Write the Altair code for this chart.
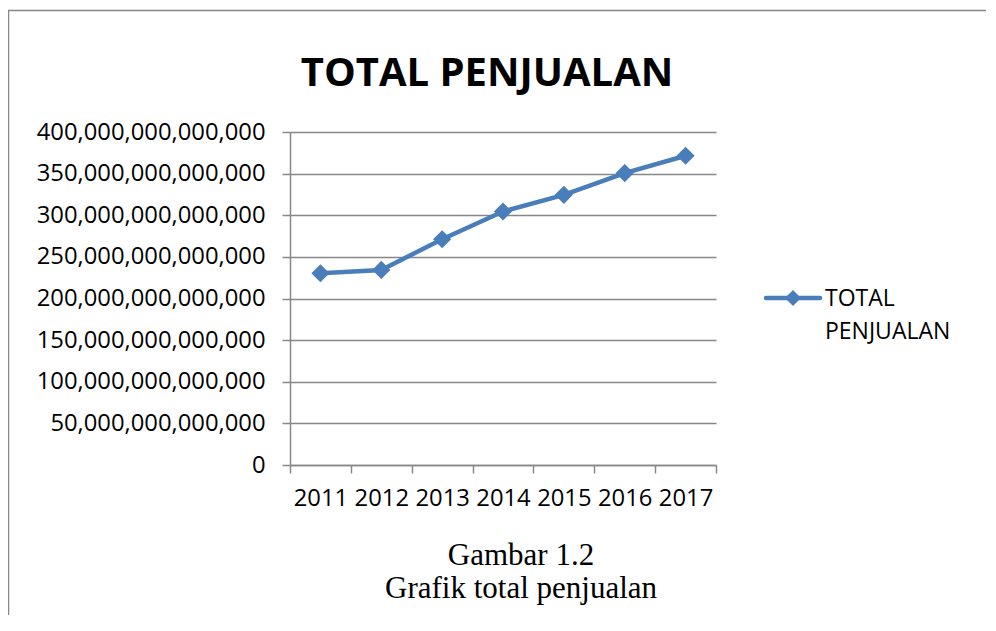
import altair as alt
import pandas as pd

# ---- data ----
years = [2011, 2012, 2013, 2014, 2015, 2016, 2017]
total_penjualan = [230.3e12, 234.3e12, 271.2e12, 304.5e12, 324.5e12, 350.7e12, 371.5e12]
series_name = "TOTAL PENJUALAN"
legend_lines = ["TOTAL", "PENJUALAN"]
y_ticks = [0, 50e12, 100e12, 150e12, 200e12, 250e12, 300e12, 350e12, 400e12]
x_tick_edges = [2010.5, 2011.5, 2012.5, 2013.5, 2014.5, 2015.5, 2016.5, 2017.5]
caption_lines = ["Gambar 1.2", "Grafik total penjualan"]

BLUE = "#4A7EBB"
GRAY = "#888888"
SANS = "Open Sans"
W, H = 426, 333

df = pd.DataFrame({"Tahun": years, "Total": total_penjualan})
one = pd.DataFrame({"k": [0]})

x_enc = alt.X(
    "Tahun:Q",
    scale=alt.Scale(domain=[2010.5, 2017.5], nice=False, zero=False),
    axis=alt.Axis(
        values=x_tick_edges,
        labelExpr="datum.value > 2017 ? '' : format(datum.value + 0.5, 'd')",
        labelOffset=W / 14,
        labelFlush=False,
        labelBound=False,
        labelOverlap=False,
        grid=False,
        tickSize=8,
        tickColor=GRAY,
        tickWidth=1.5,
        domainColor=GRAY,
        domainWidth=1.5,
        labelPadding=13,
        labelFont=SANS,
        labelFontSize=23.8,
        labelColor="black",
        title=None,
    ),
)
y_enc = alt.Y(
    "Total:Q",
    scale=alt.Scale(domain=[0, 400e12], nice=False),
    axis=alt.Axis(
        values=y_ticks,
        format=",.0f",
        grid=True,
        gridColor=GRAY,
        gridWidth=1.5,
        tickSize=8,
        tickColor=GRAY,
        tickWidth=1.5,
        domainColor=GRAY,
        domainWidth=1.5,
        labelPadding=17,
        labelFont=SANS,
        labelFontSize=23.8,
        labelColor="black",
        labelOverlap=False,
        labelLimit=400,
        title=None,
    ),
)

base = alt.Chart(df)
line = base.mark_line(color=BLUE, strokeWidth=4.5).encode(x=x_enc, y=y_enc)
points = base.mark_point(shape="diamond", filled=True, size=330, color=BLUE, opacity=1).encode(
    x="Tahun:Q", y="Total:Q"
)

# legend (drawn by hand so the symbol is a line with a diamond and the label wraps)
leg_line = alt.Chart(one).mark_rule(color=BLUE, strokeWidth=4.5, strokeCap="round").encode(
    x=alt.value(476), x2=alt.value(530), y=alt.value(166)
)
leg_pt = alt.Chart(one).mark_point(shape="diamond", filled=True, size=260, color=BLUE, opacity=1).encode(
    x=alt.value(503), y=alt.value(166)
)
leg_txt = alt.Chart(one).mark_text(
    text=legend_lines, font=SANS, fontSize=23, align="left", baseline="alphabetic",
    lineHeight=33, color="black"
).encode(x=alt.value(535), y=alt.value(174))

caption = alt.Chart(one).mark_text(
    text=caption_lines, font="Liberation Serif", fontSize=31, align="center",
    baseline="alphabetic", lineHeight=33, color="black"
).encode(x=alt.value(231), y=alt.value(433))

border = alt.Chart(one).mark_rect(fillOpacity=0, stroke=GRAY, strokeWidth=1.5).encode(
    x=alt.value(-281.5), x2=alt.value(900), y=alt.value(-121.5), y2=alt.value(700)
)

chart = alt.layer(border, line, points, leg_line, leg_pt, leg_txt, caption).properties(
    width=W,
    height=H,
    autosize=alt.AutoSizeParams(type="none"),
    padding={"left": 282, "top": 124, "right": 270, "bottom": 150},
    title=alt.Title(
        series_name, font=SANS, fontSize=40, fontWeight="bold", color="black",
        anchor="middle", dx=-16, baseline="alphabetic", offset=-116,
    ),
).configure_view(stroke=None)

chart.save("out.html", embed_options={"renderer": "svg", "actions": False})
